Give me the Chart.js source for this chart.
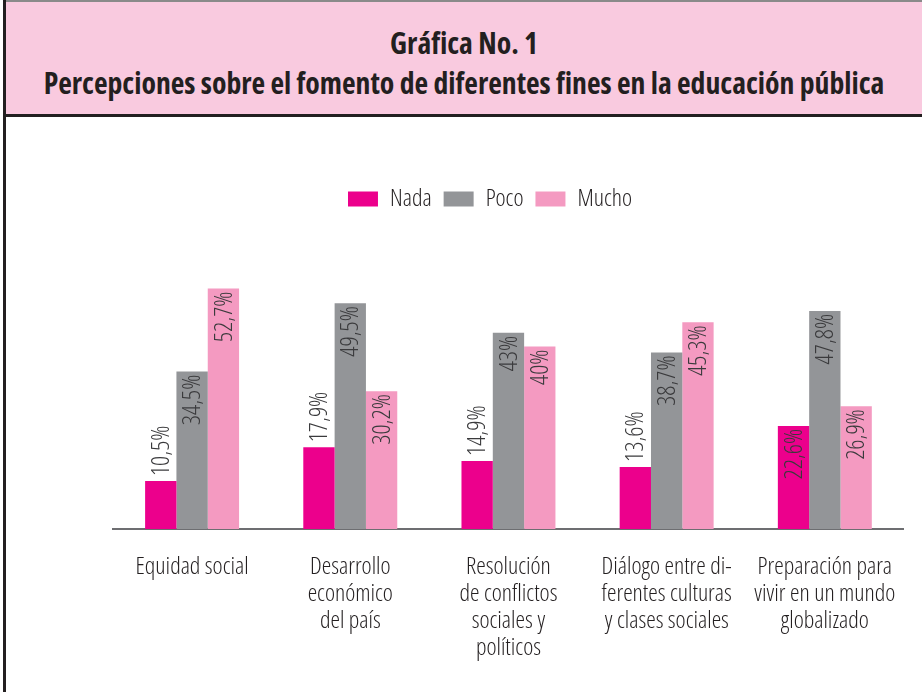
<!DOCTYPE html>
<html>
<head>
<meta charset="utf-8">
<script src="https://cdn.jsdelivr.net/npm/chart.js@4"></script>
<style>
  html, body { margin: 0; padding: 0; background: #fff; }
  body { width: 922px; height: 692px; position: relative; overflow: hidden; }
  #frame { position: absolute; left: 3px; top: 0; width: 919px; height: 692px; border-left: 3px solid #231f20; box-sizing: border-box; }
  #titleBox {
    position: absolute; left: 0; top: 0; width: 100%; height: 117px;
    background: #f9cadf; border-top: 2px solid #8a8a8a; border-bottom: 3px solid #231f20;
    box-sizing: border-box; text-align: center; color: #231f20;
    font-family: 'Open Sans', sans-serif; font-weight: 700; font-stretch: condensed;
    font-size: 29.7px; line-height: 40px; padding-top: 21px;
  }
  #chartWrap { position: absolute; left: 0; top: 117px; width: 916px; height: 575px; }
</style>
</head>
<body>
<div id="frame">
  <div id="titleBox">Gráfica No. 1<br>Percepciones sobre el fomento de diferentes fines en la educación pública</div>
  <div id="chartWrap"><canvas id="myChart" width="916" height="575"></canvas></div>
</div>
<script>
// Données
const categories = [
  ['Equidad social'],
  ['Desarrollo', 'económico', 'del país'],
  ['Resolución', 'de conflictos', 'sociales y', 'políticos'],
  ['Diálogo entre di-', 'ferentes culturas', 'y clases sociales'],
  ['Preparación para', 'vivir en un mundo', 'globalizado']
];
const nada = [10.5, 17.9, 14.9, 13.6, 22.6];
const poco = [34.5, 49.5, 43, 38.7, 47.8];
const mucho = [52.7, 30.2, 40, 45.3, 26.9];

const fontFam = "'Open Sans', sans-serif";
const lightCond = '350 condensed'; // poids + largeur dans la chaîne de police du canvas

// étiquettes verticales sur les barres
const barLabels = {
  id: 'barLabels',
  afterDatasetsDraw(chart) {
    const ctx = chart.ctx;
    ctx.save();
    ctx.font = lightCond + ' 25px ' + fontFam;
    ctx.fillStyle = '#3a3a3c';
    ctx.textBaseline = 'middle';
    chart.data.datasets.forEach((ds, i) => {
      const meta = chart.getDatasetMeta(i);
      meta.data.forEach((bar, j) => {
        const v = ds.data[j];
        const txt = String(v).replace('.', ',') + '%';
        ctx.save();
        ctx.translate(bar.x, bar.y);
        ctx.rotate(-Math.PI / 2);
        if (v > 20) {
          ctx.textAlign = 'right';
          ctx.fillText(txt, -3, 1);
        } else {
          ctx.textAlign = 'left';
          ctx.fillText(txt, 5, 1);
        }
        ctx.restore();
      });
    });
    ctx.restore();
  }
};

var ctx = document.getElementById('myChart').getContext('2d');
var myChart = new Chart(ctx, {
  type: 'bar',
  data: {
    labels: categories,
    datasets: [
      { label: 'Nada', data: nada, backgroundColor: '#ec008c' },
      { label: 'Poco', data: poco, backgroundColor: '#939598' },
      { label: 'Mucho', data: mucho, backgroundColor: '#f49ac1' }
    ]
  },
  options: {
    responsive: false,
    animation: false,
    layout: { padding: { left: 68, right: 16, top: 58, bottom: 5 } },
    datasets: { bar: { categoryPercentage: 0.594, barPercentage: 1 } },
    plugins: {
      legend: {
        position: 'top',
        labels: {
          boxWidth: 30, boxHeight: 15, padding: 12,
          color: '#231f20',
          font: { family: fontFam, weight: lightCond, size: 24 }
        }
      },
      tooltip: { enabled: false }
    },
    scales: {
      x: {
        grid: { display: false, drawTicks: false },
        border: { color: '#6d6e71', width: 2 },
        ticks: {
          color: '#231f20', padding: 25, maxRotation: 0, autoSkip: false,
          font: { family: fontFam, weight: lightCond, size: 24, lineHeight: 1.125 }
        }
      },
      y: {
        min: 0, max: 67.5,
        grid: { display: false },
        border: { display: false },
        ticks: { display: false },
        // espace vide à gauche pour décaler la légende comme sur l'original
        afterFit(scale) { scale.width = 39; }
      }
    }
  },
  plugins: [barLabels]
});
</script>
</body>
</html>
